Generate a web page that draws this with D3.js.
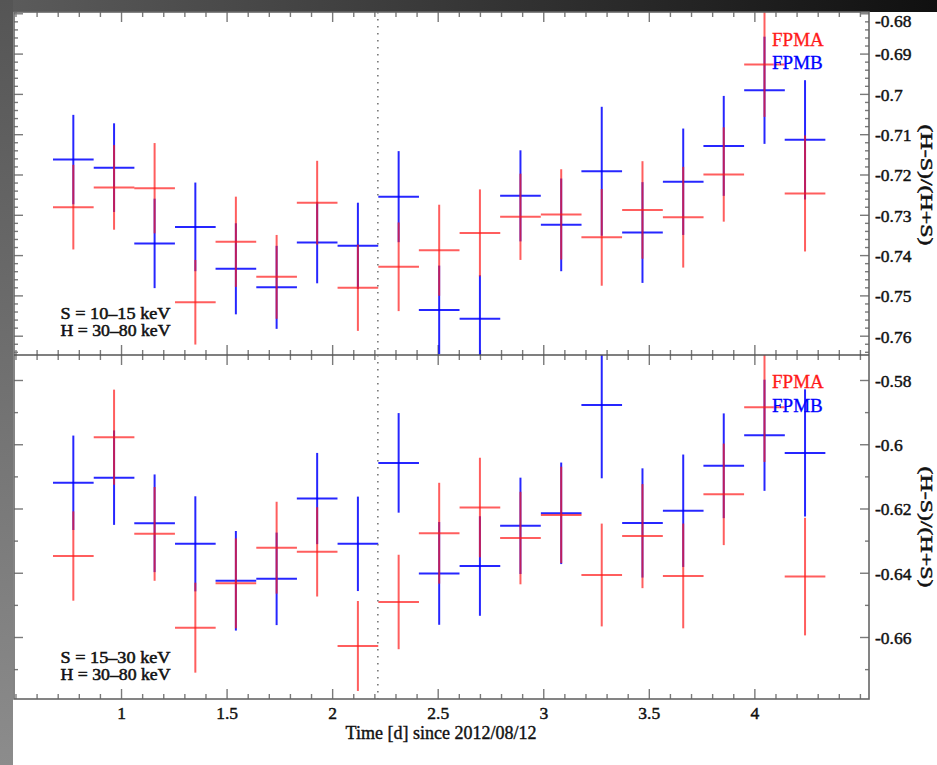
<!DOCTYPE html>
<html><head><meta charset="utf-8">
<script src="https://cdn.jsdelivr.net/npm/d3@7/dist/d3.min.js"></script>
<style>body{margin:0;background:#fff}svg{display:block}</style>
</head><body>
<svg id="c" width="937" height="765"></svg>
<script>
// ---------------- data ----------------
const time = [0.774, 0.967, 1.159, 1.352, 1.544, 1.737, 1.929, 2.122, 2.315, 2.507,
              2.700, 2.892, 3.085, 3.277, 3.470, 3.663, 3.855, 4.048, 4.240];
const binHalf = 0.0963;

// panel 1: S = 10-15 keV, H = 30-80 keV
const topFPMA    = [-0.7281,-0.7232,-0.7234,-0.7517,-0.7367,-0.7454,-0.7270,-0.7481,-0.7429,-0.7388,
                    -0.7345,-0.7305,-0.7299,-0.7356,-0.7288,-0.7306,-0.7200,-0.6927,-0.7247];
const topFPMAerr = [0.0105,0.0105,0.0112,0.0105,0.0112,0.0104,0.0104,0.0107,0.0110,0.0113,
                    0.0108,0.0107,0.0112,0.0120,0.0121,0.0125,0.0117,0.0130,0.0144];
const topFPMB    = [-0.7163,-0.7183,-0.7371,-0.7330,-0.7434,-0.7480,-0.7369,-0.7377,-0.7255,-0.7536,
                    -0.7558,-0.7253,-0.7325,-0.7192,-0.7344,-0.7218,-0.7129,-0.6991,-0.7114];
const topFPMBerr = [0.0111,0.0110,0.0111,0.0110,0.0113,0.0103,0.0101,0.0107,0.0113,0.0110,
                    0.0108,0.0113,0.0115,0.0160,0.0125,0.0132,0.0124,0.0133,0.0148];

// panel 2: S = 15-30 keV, H = 30-80 keV
const botFPMA    = [-0.6348,-0.5978,-0.6279,-0.6571,-0.6433,-0.6322,-0.6335,-0.6628,-0.6491,-0.6277,
                    -0.6197,-0.6292,-0.6220,-0.6407,-0.6286,-0.6410,-0.6156,-0.5885,-0.6412];
const botFPMAerr = [0.0139,0.0148,0.0146,0.0140,0.0140,0.0143,0.0139,0.0140,0.0147,0.0157,
                    0.0155,0.0144,0.0150,0.0160,0.0162,0.0163,0.0158,0.0170,0.0183];
const botFPMB    = [-0.6120,-0.6104,-0.6246,-0.6310,-0.6425,-0.6419,-0.6169,-0.6310,-0.6058,-0.6402,
                    -0.6379,-0.6254,-0.6215,-0.5878,-0.6245,-0.6207,-0.6067,-0.5972,-0.6027];
const botFPMBerr = [0.0147,0.0147,0.0152,0.0148,0.0155,0.0144,0.0142,0.0147,0.0155,0.0160,
                    0.0155,0.0150,0.0158,0.0228,0.0170,0.0175,0.0163,0.0173,0.0198];

const markerTime = 2.2165;

const xTickValues = [1, 1.5, 2, 2.5, 3, 3.5, 4];
const xTickLabels = ["1", "1.5", "2", "2.5", "3", "3.5", "4"];
const topYTickValues = [-0.68,-0.69,-0.70,-0.71,-0.72,-0.73,-0.74,-0.75,-0.76];
const topYTickLabels = ["-0.68","-0.69","-0.7","-0.71","-0.72","-0.73","-0.74","-0.75","-0.76"];
const botYTickValues = [-0.58,-0.60,-0.62,-0.64,-0.66];
const botYTickLabels = ["-0.58","-0.6","-0.62","-0.64","-0.66"];

const seriesNames = ["FPMA", "FPMB"];
const seriesColors = ["#ff1a1a", "#0000ff"];
const panelTexts = [["S = 10\u201315 keV", "H = 30\u201380 keV"], ["S = 15\u201330 keV", "H = 30\u201380 keV"]];
const yTitle = "(H-S)/(H+S)";
const xTitle = "Time [d] since 2012/08/12";

// ---------------- layout ----------------
const svg = d3.select("#c");
const L = 14, R = 869, T = 12, MID = 355, B = 699;
const FONT = "'Liberation Serif', 'Times New Roman', serif";

function ink(sel, w) {
  sel.attr("stroke", "#111").attr("stroke-width", w).attr("paint-order", "stroke");
}

// background frame of the screenshot
const defs = svg.append("defs");
const gTop = defs.append("linearGradient").attr("id","gt").attr("x1","0").attr("x2","1").attr("y1","0").attr("y2","0");
gTop.append("stop").attr("offset","0").attr("stop-color","#5c5c5c");
gTop.append("stop").attr("offset","1").attr("stop-color","#101010");
const gLeft = defs.append("linearGradient").attr("id","gl").attr("x1","0").attr("x2","0").attr("y1","0").attr("y2","1");
gLeft.append("stop").attr("offset","0").attr("stop-color","#555");
gLeft.append("stop").attr("offset","1").attr("stop-color","#8c8c8c");
svg.append("rect").attr("x",0).attr("y",0).attr("width",937).attr("height",765).attr("fill","#fff");
svg.append("rect").attr("x",0).attr("y",0).attr("width",937).attr("height",T).attr("fill","url(#gt)");
svg.append("rect").attr("x",0).attr("y",0).attr("width",L-1).attr("height",765).attr("fill","url(#gl)");

const x = d3.scaleLinear().domain([0.493, 4.543]).range([L, R]);
const yTop = d3.scaleLinear().domain([-0.67968, -0.76479]).range([T, MID]);
const yBot = d3.scaleLinear().domain([-0.57222, -0.6793]).range([MID, B]);

const panels = [
  {y: yTop, y0: T, y1: MID, A: topFPMA, Ae: topFPMAerr, Bv: topFPMB, Be: topFPMBerr,
   ticks: topYTickValues, labels: topYTickLabels, minorStep: 0.002, texts: panelTexts[0],
   textY: [318.6, 336.3], legY: [46, 68.7], titleY: 185, firstShift: 7},
  {y: yBot, y0: MID, y1: B, A: botFPMA, Ae: botFPMAerr, Bv: botFPMB, Be: botFPMBerr,
   ticks: botYTickValues, labels: botYTickLabels, minorStep: 0.01, texts: panelTexts[1],
   textY: [662.6, 680.3], legY: [388.3, 412.3], titleY: 527, firstShift: 0}
];

const xMinor = d3.range(5, 46).map(i => i / 10).filter(v => !xTickValues.includes(v));
const tickColor = "#7a7a7a";

function styleAxis(g) {
  g.select(".domain").remove();
  g.selectAll(".tick line").attr("stroke", tickColor).attr("stroke-width", 1.4);
}

panels.forEach((p, i) => {
  const y = p.y;
  const clipId = "clip" + i;
  defs.append("clipPath").attr("id", clipId).append("rect")
    .attr("x", L).attr("y", p.y0).attr("width", R - L).attr("height", p.y1 - p.y0);

  // x ticks (inward) at bottom and top of panel
  [[d3.axisBottom, p.y1], [d3.axisTop, p.y0]].forEach(([ax, yy]) => {
    svg.append("g").attr("transform", `translate(0,${yy})`)
      .call(ax(x).tickValues(xMinor).tickSize(-5).tickFormat("")).call(styleAxis);
    svg.append("g").attr("transform", `translate(0,${yy})`)
      .call(ax(x).tickValues(xTickValues).tickSize(-10).tickFormat("")).call(styleAxis);
  });

  // y ticks
  const [dlo, dhi] = y.domain();
  const nMin = Math.ceil(-dlo / p.minorStep - 1e-6), nMax = Math.floor(-dhi / p.minorStep + 1e-6);
  const yMinor = d3.range(nMin, nMax + 1).map(k => -k * p.minorStep)
    .filter(v => !p.ticks.some(t => Math.abs(t - v) < 1e-6));
  [[d3.axisLeft, L], [d3.axisRight, R]].forEach(([ax, xx]) => {
    svg.append("g").attr("transform", `translate(${xx},0)`)
      .call(ax(y).tickValues(yMinor).tickSize(-4).tickFormat("")).call(styleAxis);
    svg.append("g").attr("transform", `translate(${xx},0)`)
      .call(ax(y).tickValues(p.ticks).tickSize(-9).tickFormat("")).call(styleAxis);
  });
  // y tick labels (right)
  const lab = svg.append("g").attr("transform", `translate(${R},0)`)
    .call(d3.axisRight(y).tickValues(p.ticks).tickSize(0).tickPadding(6)
      .tickFormat((d, j) => p.labels[j]));
  lab.select(".domain").remove();
  lab.selectAll("text").attr("font-family", FONT).attr("font-size", 17.5).attr("fill", "#111")
    .attr("dy", (d, j) => j === 0 && p.firstShift ? (0.36 * 17.5 + p.firstShift) + "px" : "0.36em")
    .call(ink, 0.45);

  // error crosses
  const g = svg.append("g").attr("clip-path", `url(#${clipId})`);
  const series = [
    {v: p.Bv, e: p.Be, color: seriesColors[1], op: 0.85},
    {v: p.A, e: p.Ae, color: seriesColors[0], op: 0.7}
  ];
  series.forEach(s => {
    const sg = g.append("g").attr("stroke", s.color).attr("stroke-opacity", s.op).attr("stroke-width", 2);
    sg.selectAll("line.h").data(time).join("line").attr("class", "h")
      .attr("x1", (t) => x(t - binHalf)).attr("x2", (t) => x(t + binHalf))
      .attr("y1", (t, j) => y(s.v[j])).attr("y2", (t, j) => y(s.v[j]));
    sg.selectAll("line.v").data(time).join("line").attr("class", "v")
      .attr("x1", (t) => x(t)).attr("x2", (t) => x(t))
      .attr("y1", (t, j) => y(s.v[j] + s.e[j])).attr("y2", (t, j) => y(s.v[j] - s.e[j]));
  });

  // band annotation
  p.texts.forEach((tx, j) => {
    svg.append("text").attr("x", 60.5).attr("y", p.textY[j]).text(tx)
      .attr("font-family", FONT).attr("font-size", 15.8).attr("fill", "#111")
      .attr("textLength", 110).attr("lengthAdjust", "spacingAndGlyphs")
      .call(ink, 0.5);
  });
  // legend
  seriesNames.forEach((n, j) => {
    svg.append("text").attr("x", 772).attr("y", p.legY[j]).text(n)
      .attr("font-family", FONT).attr("font-size", 19).attr("fill", seriesColors[j])
      .attr("stroke", seriesColors[j]).attr("stroke-width", 0.3);
  });
  // y title (right, rotated)
  svg.append("text").attr("transform", `translate(920.5,${p.titleY}) rotate(90)`)
    .attr("text-anchor", "middle").text(yTitle)
    .attr("textLength", 121).attr("lengthAdjust", "spacingAndGlyphs")
    .attr("font-family", FONT).attr("font-size", 17.5).attr("fill", "#111").call(ink, 0.5);
});

// frame
svg.append("rect").attr("x", L).attr("y", T).attr("width", R - L).attr("height", B - T)
  .attr("fill", "none").attr("stroke", "#666").attr("stroke-width", 1.6);
svg.append("line").attr("x1", L).attr("x2", R).attr("y1", MID).attr("y2", MID)
  .attr("stroke", "#555").attr("stroke-width", 1.6);

// dotted marker line
svg.append("line").attr("x1", x(markerTime)).attr("x2", x(markerTime)).attr("y1", T).attr("y2", B)
  .attr("stroke", "#777").attr("stroke-width", 1.6).attr("stroke-dasharray", "1.6,5.4");

// x tick labels
const xl = svg.append("g").attr("transform", `translate(0,${B})`)
  .call(d3.axisBottom(x).tickValues(xTickValues).tickSize(0).tickPadding(8)
    .tickFormat((d, j) => xTickLabels[j]));
xl.select(".domain").remove();
xl.selectAll("text").attr("font-family", FONT).attr("font-size", 17.5).attr("fill", "#111").call(ink, 0.45);

svg.append("text").attr("x", 441).attr("y", 739)
  .attr("text-anchor", "middle").text(xTitle)
  .attr("font-family", FONT).attr("font-size", 18).attr("fill", "#111").call(ink, 0.4);
</script>
</body></html>
